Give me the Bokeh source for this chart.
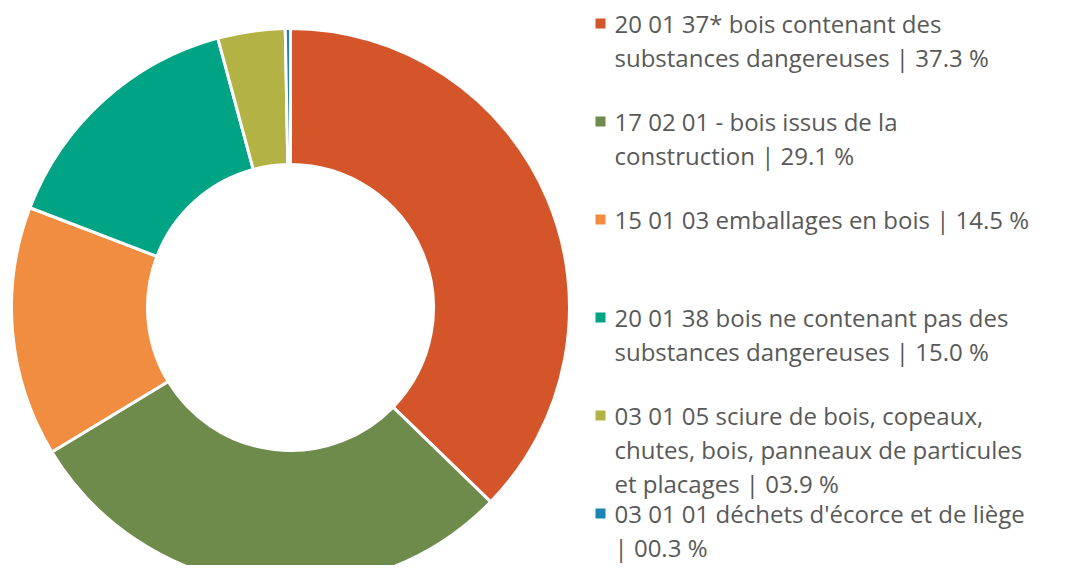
import math
from bokeh.plotting import figure
from bokeh.models import Range1d, ColumnDataSource
from bokeh.core.properties import value
from bokeh.embed import file_html
from bokeh.resources import INLINE

labels = [
    "20 01 37* bois contenant des\nsubstances dangereuses | 37.3 %",
    "17 02 01 - bois issus de la\nconstruction | 29.1 %",
    "15 01 03 emballages en bois | 14.5 %",
    "20 01 38 bois ne contenant pas des\nsubstances dangereuses | 15.0 %",
    "03 01 05 sciure de bois, copeaux,\nchutes, bois, panneaux de particules\net placages | 03.9 %",
    "03 01 01 déchets d'écorce et de liège\n| 00.3 %",
]
shares = [37.3, 29.1, 14.5, 15.0, 3.9, 0.3]
colors = ["#D5552A", "#6E8B4C", "#F18D40", "#00A384", "#B3B345", "#1A84B5"]

W, H = 1050, 565
p = figure(width=W, height=H, output_backend="svg", toolbar_location=None,
           x_range=Range1d(0, W), y_range=Range1d(0, H), min_border=0)
p.axis.visible = False
p.grid.visible = False
p.outline_line_color = None

def fy(page_y):
    return H - page_y

def fx(page_x):
    return page_x

total = sum(shares)
starts, ends = [], []
cum = 0.0
for s in shares:
    starts.append(math.pi / 2 - 2 * math.pi * cum / total)
    cum += s
    ends.append(math.pi / 2 - 2 * math.pi * cum / total)

src = ColumnDataSource(dict(start=starts, end=ends, color=colors))
p.annular_wedge(x=fx(290), y=fy(307), inner_radius=143, outer_radius=279,
                start_angle="start", end_angle="end", direction="clock",
                fill_color="color", line_color="white", line_width=3, source=src)

# legend
mx, my = [], []
tx, ty, tt = [], [], []
for i, lab in enumerate(labels):
    top = 23 + i * 98
    mx.append(fx(600))
    my.append(fy(top))
    for j, line in enumerate(lab.split("\n")):
        tx.append(fx(614))
        ty.append(fy(top + j * 34))
        tt.append(line)

p.scatter(x=mx, y=my, marker="square", size=10, color=colors, line_color=None)
p.text(x=tx, y=ty, text=tt, text_font=value("Open Sans"), text_font_size="24px",
       text_color="#595959", text_baseline="middle", text_align="left")

open("out.html", "w").write(file_html(p, INLINE))
